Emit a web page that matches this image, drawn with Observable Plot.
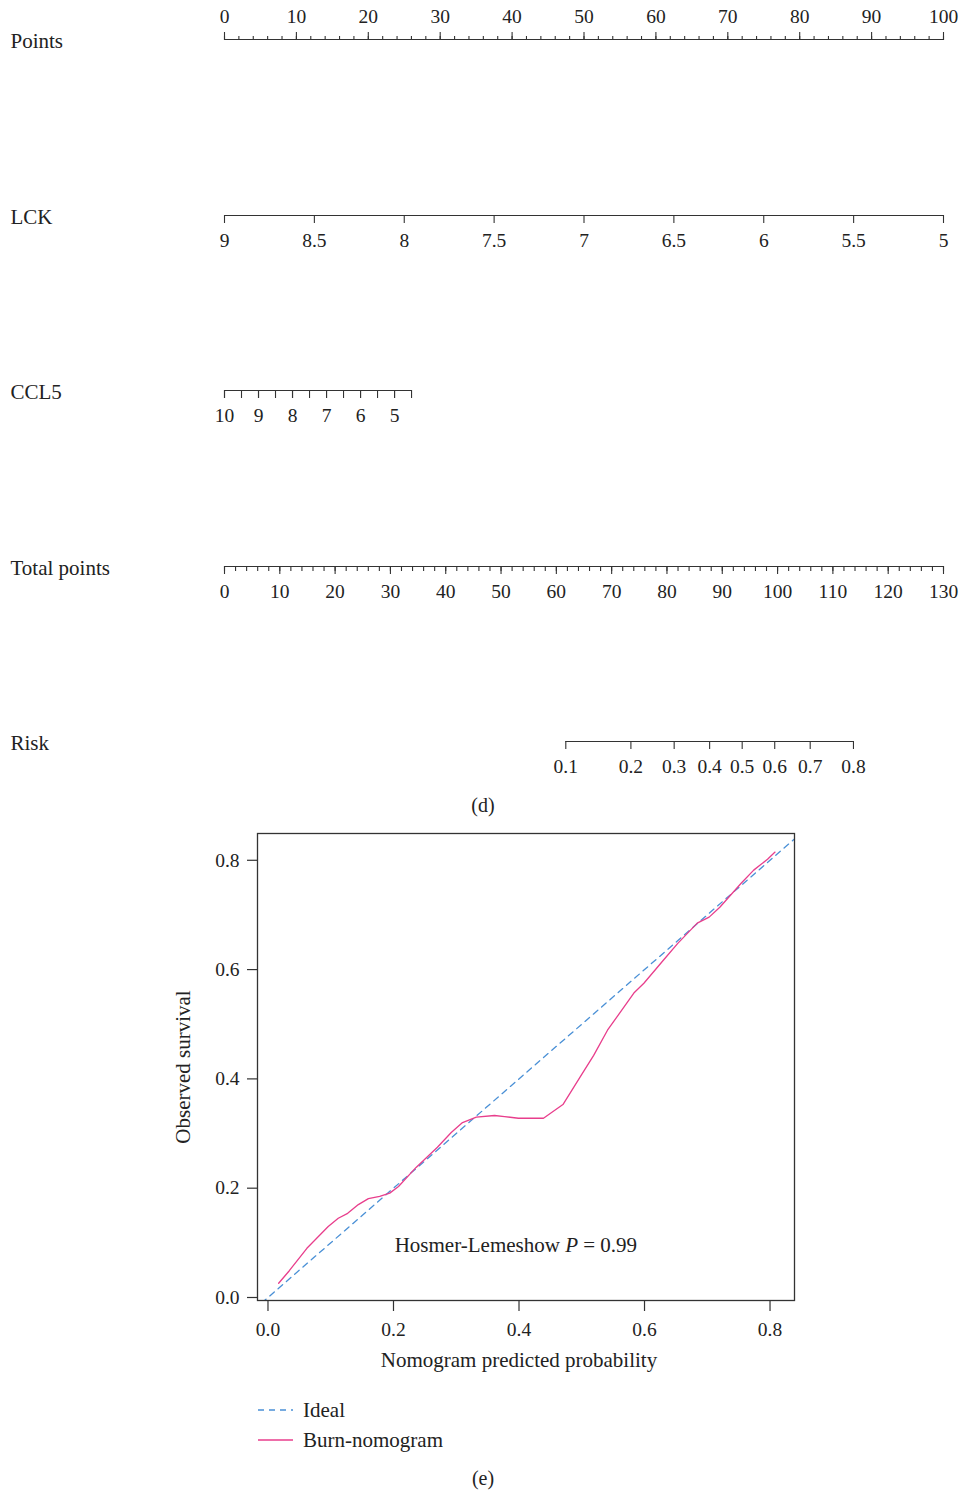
<!DOCTYPE html>
<html><head><meta charset="utf-8">
<script src="https://cdn.jsdelivr.net/npm/d3@7"></script>
<script src="https://cdn.jsdelivr.net/npm/@observablehq/plot@0.6"></script>
<style>
body{margin:0;background:#fff;font-family:"Liberation Serif",serif;color:#222;}
#page{position:relative;width:963px;height:1490px;overflow:hidden;}
.abs{position:absolute;}
.cap{position:absolute;width:40px;text-align:center;font-size:20px;line-height:20px;}
.leg{position:absolute;font-size:21px;line-height:24px;display:flex;align-items:center;}
.leg svg{margin-right:10px;}
svg{display:block;}
</style></head><body><div id="page"><div id="nomo" class="abs" style="left:0;top:0"></div>
<div class="cap" style="left:463px;top:795px">(d)</div>
<div id="calib" class="abs" style="left:0;top:815px"></div>
<div class="leg" style="left:258px;top:1398px"><svg width="35" height="4"><line x1="0" y1="2" x2="35" y2="2" stroke="#4a90d6" stroke-width="1.3" stroke-dasharray="6,5"/></svg>Ideal</div>
<div class="leg" style="left:258px;top:1428px"><svg width="35" height="4"><line x1="0" y1="2" x2="35" y2="2" stroke="#e83e8c" stroke-width="1.5"/></svg>Burn-nomogram</div>
<div class="cap" style="left:463px;top:1468px">(e)</div>
</div>
<script>
// ---------- Nomogram data ----------
const rowNames = ["Points", "LCK", "CCL5", "Total points", "Risk"];
const pointsMajor = [0, 10, 20, 30, 40, 50, 60, 70, 80, 90, 100];
const pointsMinor = d3.range(0, 101, 2);
const lckTicks = [9, 8.5, 8, 7.5, 7, 6.5, 6, 5.5, 5];
const ccl5Major = [10, 9, 8, 7, 6, 5];
const ccl5Minor = [10, 9.5, 9, 8.5, 8, 7.5, 7, 6.5, 6, 5.5, 5, 4.5];
const ccl5PointsPerUnit = 4.73;   // read: 1 unit of CCL5 ~ 4.73 points
const totalMajor = [0, 10, 20, 30, 40, 50, 60, 70, 80, 90, 100, 110, 120, 130];
const totalMinor = d3.range(0, 131, 2);
const riskTicks = [0.1, 0.2, 0.3, 0.4, 0.5, 0.6, 0.7, 0.8];
const riskMidTotal = 93.6;        // total points where risk = 0.5
const riskSlope = 0.0689;         // logit per total point

// ---------- Calibration data ----------
const xTicks = [0, 0.2, 0.4, 0.6, 0.8];
const yTicks = [0, 0.2, 0.4, 0.6, 0.8];
const idealEnds = [-0.05, 0.9];
const calX = [0.017,0.034,0.062,0.096,0.112,0.127,0.144,0.160,0.178,0.194,0.208,0.236,0.270,0.292,0.310,0.332,0.361,0.377,0.399,0.416,0.439,0.470,0.501,0.519,0.541,0.583,0.599,0.630,0.653,0.684,0.703,0.720,0.754,0.774,0.796,0.808];
const calY = [0.026,0.049,0.090,0.130,0.145,0.154,0.170,0.181,0.185,0.191,0.203,0.238,0.275,0.302,0.320,0.330,0.333,0.331,0.328,0.328,0.328,0.353,0.410,0.443,0.489,0.557,0.575,0.617,0.648,0.685,0.696,0.714,0.758,0.782,0.802,0.815];
const hlText = "Hosmer-Lemeshow P = 0.99";

const blue = "#4a90d6", pink = "#e83e8c";
const baseStyle = {fontFamily: "Liberation Serif", fontSize: "19.5px", color: "#333", background: "transparent", overflow: "visible"};

function nomoRow({name, domain, line, major, minor, majorLen, minorLen, fmt, up, h}) {
  const lineY = 39, inner = 10;
  const marginTop = up ? lineY : lineY - inner;
  const marginBottom = h - marginTop - inner;
  const anchor = up ? "top" : "bottom";
  const marks = [Plot.ruleY([up ? 1 : 0], {x1: line[0], x2: line[1], stroke: "#333", strokeWidth: 1.2})];
  if (minor) marks.push(Plot.axisX(minor, {anchor, tickSize: minorLen, tickFormat: () => "", label: null, strokeWidth: 1.1}));
  marks.push(Plot.axisX(major, {anchor, tickSize: majorLen, tickPadding: up ? 9 : 10, tickFormat: fmt, label: null, fill: "#222", strokeWidth: 1.1}));
  marks.push(Plot.text([name], {frameAnchor: up ? "top-left" : "bottom-left", dx: -214, dy: 2, textAnchor: "start", lineAnchor: "middle", fontSize: 21, fill: "#222"}));
  return Plot.plot({width: 963, height: h, marginLeft: 224, marginRight: 20, marginTop, marginBottom,
    style: baseStyle, x: {domain}, y: {domain: [0, 1], axis: null}, marks});
}

const nomo = document.getElementById("nomo");
nomo.append(nomoRow({name: rowNames[0], domain: [0, 100], line: [0, 100], major: pointsMajor, minor: pointsMinor, majorLen: 8, minorLen: 4, fmt: d => String(d), up: true, h: 176}));
nomo.append(nomoRow({name: rowNames[1], domain: [9, 5], line: [9, 5], major: lckTicks, majorLen: 8, fmt: d => String(d), up: false, h: 175}));
nomo.append(nomoRow({name: rowNames[2], domain: [10, 10 - 100 / ccl5PointsPerUnit], line: [10, 4.5], major: ccl5Major, minor: ccl5Minor, majorLen: 8, minorLen: 8, fmt: d => String(d), up: false, h: 176}));
nomo.append(nomoRow({name: rowNames[3], domain: [0, 130], line: [0, 130], major: totalMajor, minor: totalMinor, majorLen: 8, minorLen: 5, fmt: d => String(d), up: false, h: 175}));
const riskPos = riskTicks.map(r => riskMidTotal + Math.log(r / (1 - r)) / riskSlope);
const riskLabel = new Map(riskPos.map((p, i) => [p, String(riskTicks[i])]));
nomo.append(nomoRow({name: rowNames[4], domain: [0, 130], line: [riskPos[0], riskPos[riskPos.length - 1]], major: riskPos, majorLen: 8, fmt: d => riskLabel.get(d), up: false, h: 80}));

// ---------- Calibration plot ----------
const calib = calX.map((x, i) => ({x, y: calY[i]}));
const cal = Plot.plot({
  width: 963, height: 560, marginTop: 18, marginLeft: 257, marginRight: 169, marginBottom: 75,
  style: baseStyle,
  x: {domain: [-0.0167, 0.839]}, y: {domain: [-0.0055, 0.849]},
  marks: [
    Plot.line(idealEnds, {x: d => d, y: d => d, stroke: blue, strokeWidth: 1.3, strokeDasharray: "6,5", clip: true}),
    Plot.line(calib, {x: "x", y: "y", stroke: pink, strokeWidth: 1.3}),
    Plot.frame({stroke: "#333", strokeWidth: 1.3}),
    Plot.axisX(xTicks, {tickSize: 11, tickPadding: 11, tickFormat: d3.format(".1f"), label: null, fill: "#222", strokeWidth: 1.2}),
    Plot.axisY(yTicks, {tickSize: 10, tickPadding: 8, tickFormat: d3.format(".1f"), label: null, fill: "#222", strokeWidth: 1.2}),
    Plot.text([hlText], {x: 0.395, y: 0.095, fontSize: 21, fill: "#222"}),
    Plot.text(["Nomogram predicted probability"], {x: 0.4, frameAnchor: "bottom", dy: 66, fontSize: 21, fill: "#222"}),
    Plot.text(["Observed survival"], {frameAnchor: "left", dx: -74, rotate: -90, textAnchor: "middle", fontSize: 21, fill: "#222"})
  ]
});
document.getElementById("calib").append(cal);

// italic P in the Hosmer-Lemeshow annotation
d3.select(cal).selectAll("text").filter(function () { return this.textContent === hlText; }).each(function () {
  const t = d3.select(this).style("white-space", "pre").text("");
  t.append("tspan").text("Hosmer-Lemeshow ");
  t.append("tspan").attr("font-style", "italic").text("P");
  t.append("tspan").text(" = 0.99");
});
</script></body></html>
